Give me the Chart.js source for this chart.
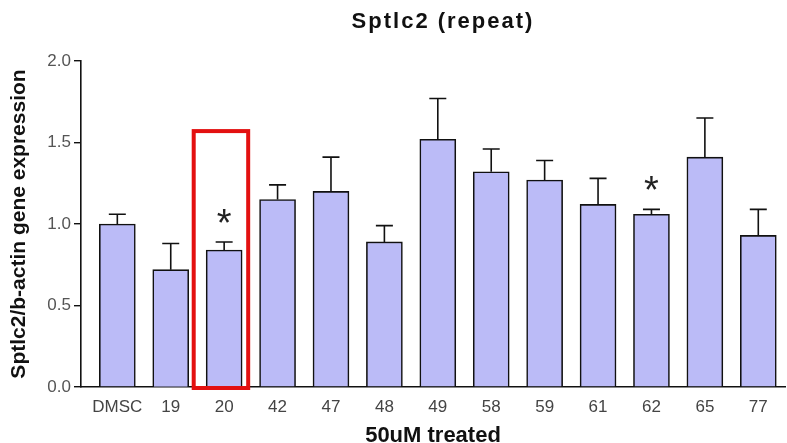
<!DOCTYPE html>
<html>
<head>
<meta charset="utf-8">
<script src="https://cdn.jsdelivr.net/npm/chart.js@4"></script>
<style>
  html, body { margin: 0; padding: 0; background: #fff; }
  #wrap { width: 787px; height: 443px; position: relative; }
</style>
</head>
<body>
<div id="wrap"><canvas id="chart"></canvas></div>
<script>
const groups = ["DMSC","19","20","42","47","48","49","58","59","61","62","65","77"];
const means  = [1.00, 0.72, 0.84, 1.15, 1.20, 0.89, 1.52, 1.32, 1.27, 1.12, 1.06, 1.41, 0.93];
const sems   = [0.06, 0.16, 0.05, 0.09, 0.21, 0.10, 0.25, 0.14, 0.12, 0.16, 0.03, 0.24, 0.16];
const signif = [false, false, true, false, false, false, false, false, false, false, true, false, false];
const yTicks = [0, 0.5, 1.0, 1.5, 2.0];
const highlighted = "20";

const FONT = "Arial, 'Liberation Sans', sans-serif";

// error bars (upper half only) and significance stars
const errorBars = {
  id: "errorBars",
  afterDatasetsDraw(chart) {
    const ctx = chart.ctx;
    const y = chart.scales.y;
    const meta = chart.getDatasetMeta(0);
    ctx.save();
    ctx.strokeStyle = "#111";
    ctx.lineWidth = 1.6;
    meta.data.forEach((bar, i) => {
      const top = y.getPixelForValue(means[i] + sems[i]);
      ctx.beginPath();
      ctx.moveTo(bar.x, bar.y);
      ctx.lineTo(bar.x, top);
      ctx.moveTo(bar.x - 8.5, top);
      ctx.lineTo(bar.x + 8.5, top);
      ctx.stroke();
      if (signif[i]) {
        ctx.fillStyle = "#222";
        ctx.font = "38px " + FONT;
        ctx.textAlign = "center";
        ctx.textBaseline = "alphabetic";
        ctx.fillText("*", bar.x, top - 6);
      }
    });
    ctx.restore();
  }
};

// red box round the highlighted group
const highlightBox = {
  id: "highlightBox",
  afterDraw(chart) {
    const i = groups.indexOf(highlighted);
    const x = chart.scales.x, y = chart.scales.y;
    const left = x.getPixelForValue(i - 0.57);
    const right = x.getPixelForValue(i + 0.45);
    const top = y.getPixelForValue(1.57);
    const bottom = y.getPixelForValue(0) + 1;
    const ctx = chart.ctx;
    ctx.save();
    ctx.strokeStyle = "#e31010";
    ctx.lineWidth = 4;
    ctx.strokeRect(left, top, right - left, bottom - top);
    ctx.restore();
  }
};

// chart title, centred over the plot area
const titleText = {
  id: "titleText",
  afterDraw(chart) {
    const ctx = chart.ctx;
    const a = chart.chartArea;
    ctx.save();
    ctx.fillStyle = "#111";
    ctx.font = "bold 22px " + FONT;
    ctx.letterSpacing = "2px";
    ctx.textAlign = "center";
    ctx.textBaseline = "alphabetic";
    ctx.fillText("Sptlc2 (repeat)", (a.left + a.right) / 2 + 10, 28);
    ctx.restore();
  }
};

new Chart(document.getElementById("chart"), {
  type: "bar",
  data: {
    datasets: [{
      data: means.map((v, i) => ({ x: i, y: v })),
      backgroundColor: "#bbbbf7",
      borderColor: "#111",
      borderWidth: 1.6,
      barThickness: 36
    }]
  },
  options: {
    responsive: true,
    maintainAspectRatio: false,
    animation: false,
    layout: { padding: { top: 61, right: 2, left: 0, bottom: 0 } },
    plugins: { legend: { display: false }, tooltip: { enabled: false } },
    scales: {
      x: {
        type: "linear",
        offset: false,
        min: -0.68,
        max: 12.5,
        afterBuildTicks: axis => { axis.ticks = groups.map((_, i) => ({ value: i })); },
        afterFit: scale => { scale.height = 56; },
        grid: { display: false },
        border: { display: true, color: "#111", width: 1.6 },
        ticks: {
          callback: v => groups[v],
          autoSkip: false,
          maxRotation: 0,
          color: "#444",
          font: { family: FONT, size: 17 },
          padding: 2
        },
        title: {
          display: true,
          text: "50uM treated",
          color: "#111",
          font: { family: FONT, size: 22, weight: "bold" },
          padding: { top: 0, bottom: -6 }
        }
      },
      y: {
        min: 0,
        max: 2.0,
        afterBuildTicks: axis => { axis.ticks = yTicks.map(v => ({ value: v })); },
        afterFit: scale => { scale.width = 81; },
        grid: { drawOnChartArea: false, drawTicks: true, tickLength: 7, color: "#111", lineWidth: 1.4 },
        border: { display: true, color: "#111", width: 1.6 },
        ticks: {
          callback: v => v.toFixed(1),
          color: "#555",
          font: { family: FONT, size: 17 },
          padding: 3
        },
        title: {
          display: true,
          text: "Sptlc2/b-actin gene expression",
          color: "#111",
          font: { family: FONT, size: 21, weight: "bold" },
          padding: { top: 7, bottom: 0 }
        }
      }
    }
  },
  plugins: [errorBars, highlightBox, titleText]
});
</script>
</body>
</html>
